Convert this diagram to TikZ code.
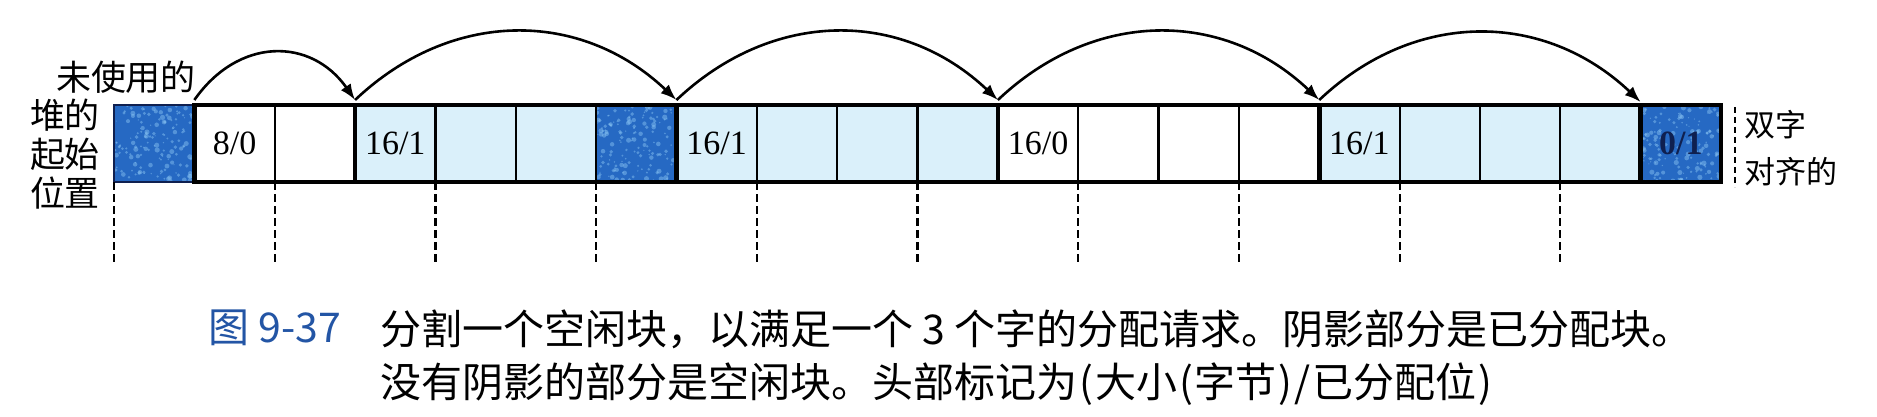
\documentclass[tikz,border=0pt]{standalone}
\usepackage{fontspec}
\setmainfont{Liberation Serif}
\newfontfamily\cjk{Noto Sans CJK SC}
\usetikzlibrary{arrows.meta}
\definecolor{darkblk}{RGB}{38,105,195}
\definecolor{darkspk}{RGB}{140,200,245}
\definecolor{lightblk}{RGB}{218,240,250}
\definecolor{navy}{RGB}{15,32,80}
\definecolor{capblue}{RGB}{35,85,165}
\begin{document}
\begin{tikzpicture}[x=1pt,y=-1pt,
  cellbox/.style={rectangle,draw=none,minimum width=80.35pt,minimum height=77pt,
    inner sep=0pt,outer sep=0pt,anchor=north west,font=\fontsize{34}{38}\selectfont},
  freecell/.style={cellbox,fill=white},
  usedcell/.style={cellbox,fill=lightblk},
  padcell/.style={cellbox,fill=darkblk,text=navy,
    path picture={
      \foreach \k in {1,...,150}{
        \pgfmathsetmacro\rx{80*rnd}
        \pgfmathsetmacro\ry{77*rnd}
        \pgfmathsetmacro\rr{0.6+2.0*rnd}
        \fill[darkspk,opacity=0.45]
          ([xshift=\rx pt,yshift=-\ry pt]path picture bounding box.north west)
          circle (\rr pt);
      }}},
  thinln/.style={line width=2.2pt,black},
  thickln/.style={line width=4.5pt,black},
  guide/.style={line width=2.2pt,black,dash pattern=on 8pt off 4pt},
  link/.style={line width=2.6pt,black,-{Latex[length=16pt,width=12pt]}},
  cjklabel/.style={font=\cjk\fontsize{35}{39}\selectfont,inner sep=0pt},
  captext/.style={font=\cjk\fontsize{41}{53}\selectfont,inner sep=0pt,anchor=west}]
\useasboundingbox (0,0) rectangle (1877,417);
\fill[white] (0,0) rectangle (1877,417);
\pgfmathsetseed{937}
% cells
\node[padcell]  (c0)  at (114,105)     {};
\node[freecell] (c1)  at (194.35,105)  {8/0};
\node[freecell] (c2)  at (274.7,105)   {};
\node[usedcell] (c3)  at (355.05,105)  {16/1};
\node[usedcell] (c4)  at (435.4,105)   {};
\node[usedcell] (c5)  at (515.75,105)  {};
\node[padcell]  (c6)  at (596.1,105)   {};
\node[usedcell] (c7)  at (676.45,105)  {16/1};
\node[usedcell] (c8)  at (756.8,105)   {};
\node[usedcell] (c9)  at (837.15,105)  {};
\node[usedcell] (c10) at (917.5,105)   {};
\node[freecell] (c11) at (997.85,105)  {16/0};
\node[freecell] (c12) at (1078.2,105)  {};
\node[freecell] (c13) at (1158.55,105) {};
\node[freecell] (c14) at (1238.9,105)  {};
\node[usedcell] (c15) at (1319.25,105) {16/1};
\node[usedcell] (c16) at (1399.6,105)  {};
\node[usedcell] (c17) at (1479.95,105) {};
\node[usedcell] (c18) at (1560.3,105)  {};
\node[padcell,font=\bfseries\fontsize{34}{38}\selectfont] (c19) at (1640.65,105) {0/1};
% borders
\draw[line width=2pt,navy] (c0.north west) rectangle (c0.south east);
\foreach \c in {c2,c4,c5,c6,c8,c9,c10,c12,c13,c14,c16,c17,c18}
  \draw[thinln] (\c.north west) -- (\c.south west);
\foreach \c in {c3,c7,c11,c15,c19}
  \draw[thickln] (\c.north west) -- (\c.south west);
\draw[thickln] (c1.north west) rectangle (c19.south east);
% guides
\foreach \c in {c0,c2,c4,c6,c8,c10,c12,c14,c16,c18}
  \draw[guide] (\c.south west) -- ([yshift=-81pt]\c.south west);
\draw[guide,line width=1.6pt,dash pattern=on 6pt off 4pt]
  ([xshift=14pt,yshift=-2pt]c19.north east) -- ([xshift=14pt,yshift=-5pt]c19.south east);
% free-list links
\draw[link] ([yshift=5pt]c1.north west) .. controls +(44,-63) and +(-44,-63) .. ([yshift=5pt]c3.north west);
\draw[link] ([yshift=5pt]c3.north west) .. controls +(96,-91) and +(-96,-91) .. ([yshift=5pt]c7.north west);
\draw[link] ([yshift=5pt]c7.north west) .. controls +(96,-91) and +(-96,-91) .. ([yshift=5pt]c11.north west);
\draw[link] ([yshift=5pt]c11.north west) .. controls +(96,-91) and +(-96,-91) .. ([yshift=5pt]c15.north west);
\draw[link] ([yshift=5pt]c15.north west) .. controls +(96,-91) and +(-96,-91) .. ([yshift=3pt]c19.north west);
% labels
\node[cjklabel] (unused) at (126,77) {未使用的};
\node[cjklabel,align=center] (heapstart) at (65,154) {堆的\\起始\\位置};
\node[font=\cjk\fontsize{31}{47}\selectfont,inner sep=0pt,align=left,anchor=west]
  (dwalign) at (1744,148.5) {双字\\对齐的};
% caption
\node[captext,text=capblue] (fignum) at (208,328) {图 9-37};
\node[captext] (capA) at (380,329) {分割一个空闲块，以满足一个 3 个字的分配请求。阴影部分是已分配块。};
\node[captext] (capB) at (380,384) {没有阴影的部分是空闲块。头部标记为\kern2pt(\kern2pt大小\kern2pt(\kern2pt字节\kern2pt)\kern2pt/\kern2pt已分配位\kern2pt)};
\end{tikzpicture}
\end{document}
